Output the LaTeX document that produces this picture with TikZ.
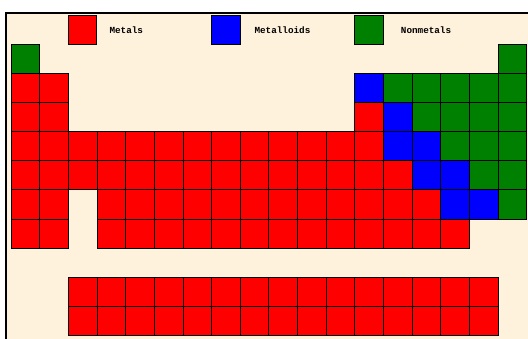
\documentclass[tikz,border=0pt]{standalone}
\usepackage{fontspec}
\setmonofont{Liberation Mono}
\usetikzlibrary{positioning}
\definecolor{paper}{RGB}{255,242,220}
\definecolor{nonmetal}{RGB}{0,128,0}
\newcommand{\cellrow}[3]{%
  \foreach \c in {#2} {
    \node[cell, fill=#3] (el-#1-\c) at ({11.3+(\c-1)*28.63}, {44.3+(#1-1)*29.14}) {};
  }}

\begin{document}
\begin{tikzpicture}[x=1pt, y=-1pt,
    cell/.style={draw=black, line width=1pt, anchor=north west, minimum width=28.63pt,
      minimum height=29.14pt, inner sep=0pt, outer sep=0pt},
    keytext/.style={font=\fontsize{9.3}{11}\selectfont\ttfamily\bfseries, inner sep=0pt, anchor=west}]
    \useasboundingbox (0,0) rectangle (528,339);
    \fill[paper] (5.5,13) rectangle (528,339);
    \draw[line width=2pt] (5.5,339) -- (5.5,13) -- (528,13);
    \node[cell, fill=red] (key-metal) at (68.3,15.3) {};
    \node[keytext, right=12.4pt of key-metal] (lab-metal) {Metals};
    \node[cell, fill=blue] (key-metalloid) at (211.7,15.3) {};
    \node[keytext, right=14pt of key-metalloid] (lab-metalloid) {Metalloids};
    \node[cell, fill=nonmetal] (key-nonmetal) at (354.9,15.3) {};
    \node[keytext, right=17.2pt of key-nonmetal] (lab-nonmetal) {Nonmetals};
    \cellrow{1}{1,18}{nonmetal}
    \cellrow{2}{1,2}{red}
    \cellrow{2}{13}{blue}
    \cellrow{2}{14,...,18}{nonmetal}
    \cellrow{3}{1,2,13}{red}
    \cellrow{3}{14}{blue}
    \cellrow{3}{15,...,18}{nonmetal}
    \cellrow{4}{1,...,13}{red}
    \cellrow{4}{14,15}{blue}
    \cellrow{4}{16,17,18}{nonmetal}
    \cellrow{5}{1,...,14}{red}
    \cellrow{5}{15,16}{blue}
    \cellrow{5}{17,18}{nonmetal}
    \cellrow{6}{1,2}{red}
    \cellrow{6}{4,...,15}{red}
    \cellrow{6}{16,17}{blue}
    \cellrow{6}{18}{nonmetal}
    \cellrow{7}{1,2}{red}
    \cellrow{7}{4,...,16}{red}
    \cellrow{9}{3,...,17}{red}
    \cellrow{10}{3,...,17}{red}
\end{tikzpicture}
\end{document}
